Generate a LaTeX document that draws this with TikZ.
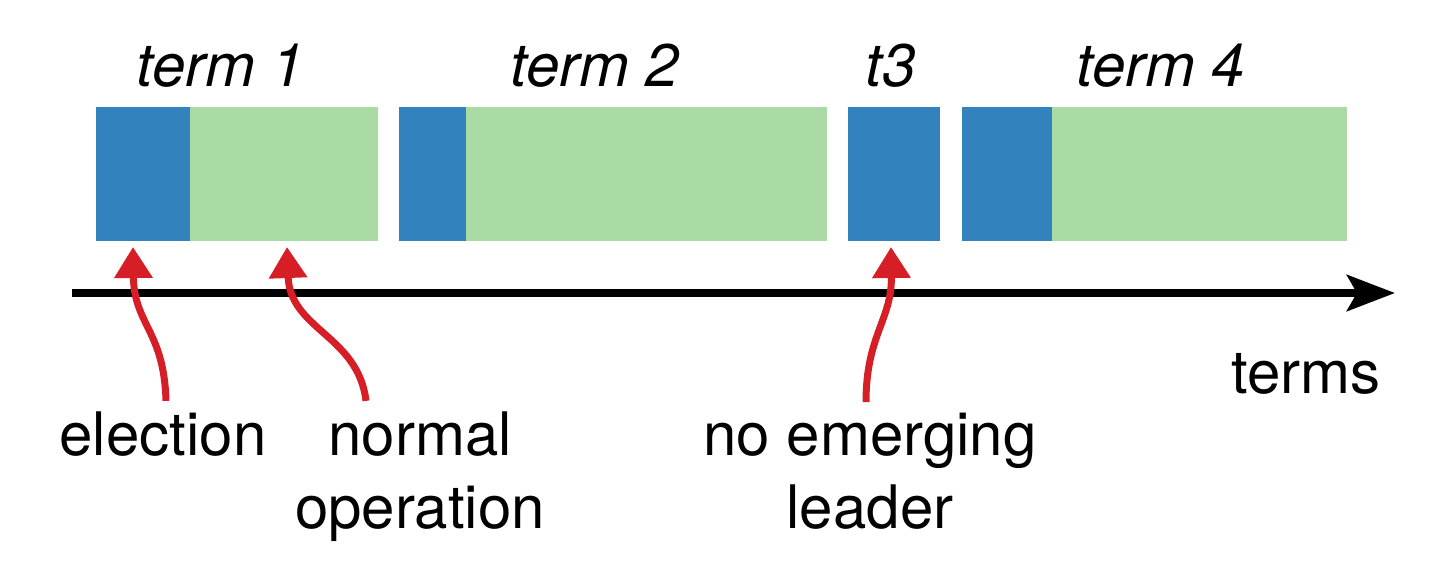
\documentclass[tikz,border=0pt]{standalone}
\usepackage{fontspec}
\setmainfont{TeX Gyre Heros}
\usetikzlibrary{arrows.meta}
\definecolor{electblue}{RGB}{49,130,189}
\definecolor{opgreen}{RGB}{170,219,164}
\definecolor{markred}{RGB}{213,30,38}

\begin{document}
\begin{tikzpicture}[x=0.5pt,y=-0.5pt,
    every node/.style={font=\fontsize{30}{36.5}\selectfont,inner sep=0pt},
    termlabel/.style={anchor=base,font=\fontsize{30}{36.5}\selectfont\itshape},
    caption/.style={anchor=base,align=center},
    pointer/.style={draw=markred,line width=3.5pt,-{Triangle[length=15.5pt,width=18.5pt]}},
    axis/.style={line width=4pt,-{Stealth[length=24pt,width=18pt,inset=5pt]}}]
  \useasboundingbox (0,0) rectangle (1446,574);

  % terms: election part, then normal operation
  \foreach \a/\b/\c in {96/190/378, 399/466/827, 962/1052/1347} {
    \fill[electblue] (\a,107) rectangle (\b,241);
    \fill[opgreen] (\b,107) rectangle (\c,241);
  }
  \fill[electblue] (848,107) rectangle (940,241);

  \node[termlabel] (term1) at (221,86) {term 1};
  \node[termlabel] (term2) at (595,86) {term 2};
  \node[termlabel] (term3) at (891,86) {t3};
  \node[termlabel] (term4) at (1161,86) {term 4};

  % time axis
  \coordinate (axisStart) at (72,293);
  \coordinate (axisEnd) at (1395,293);
  \draw[axis] (axisStart) -- (axisEnd);
  \node[caption] (terms) at (1306,393) {terms};

  % pointers (base of a two-line node is its last line)
  \node[caption] (election) at (163,455) {election};
  \node[caption] (normal) at (420,528) {normal\\operation};
  \node[caption] (noleader) at (870,528) {no emerging\\leader};

  \coordinate (electionTip) at (133,247);
  \coordinate (normalTip) at (287,247);
  \coordinate (noleaderTip) at (891,247);

  \draw[pointer] ([xshift=1.5pt,yshift=5pt]election.north) .. controls (164,330) and (134,325) .. (electionTip);
  \draw[pointer] ([xshift=-27pt,yshift=5pt]normal.north) .. controls (358,335) and (290,330) .. (normalTip);
  \draw[pointer] ([xshift=-2pt,yshift=5pt]noleader.north) .. controls (866,335) and (892,320) .. (noleaderTip);
\end{tikzpicture}
\end{document}
